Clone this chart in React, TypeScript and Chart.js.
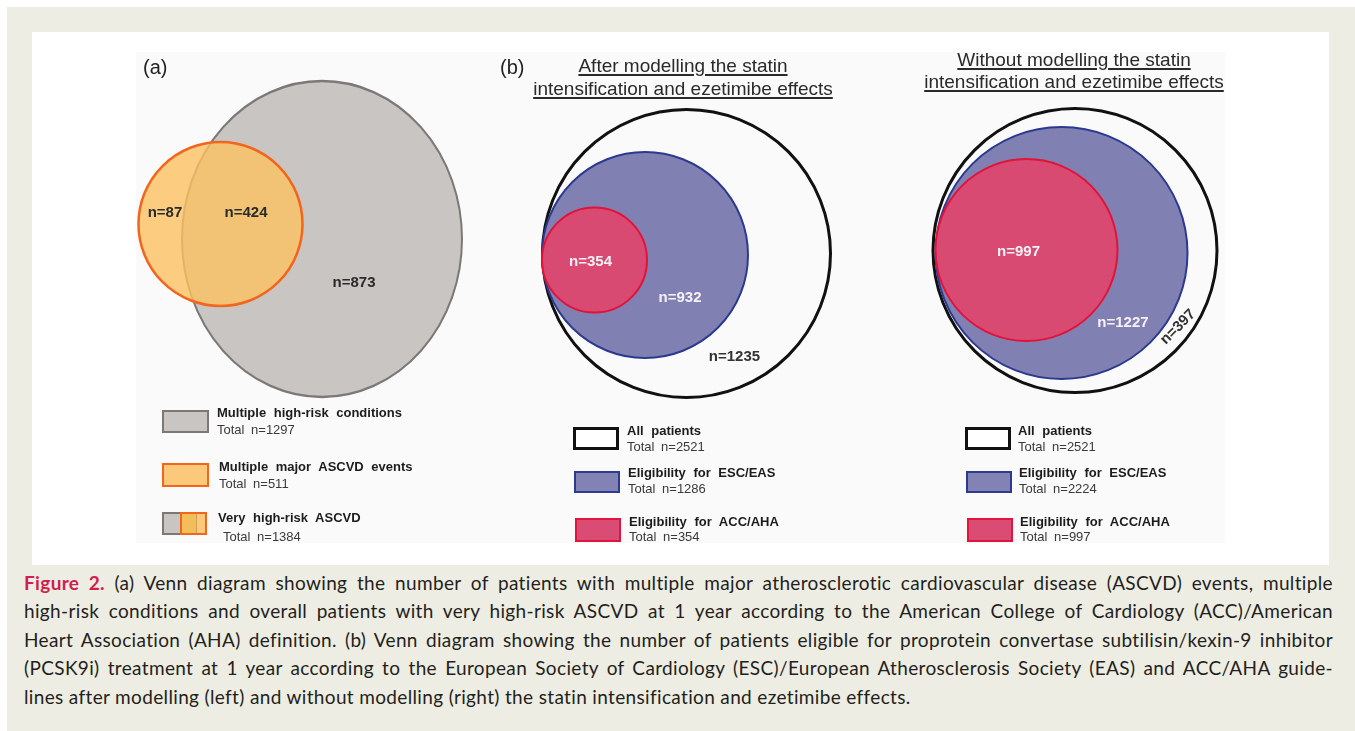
import React, { useEffect, useRef } from "react";
import { Chart, registerables } from "chart.js";

Chart.register(...registerables);

// ---------------- data ----------------
const setNamesA = ["Multiple high-risk conditions", "Multiple major ASCVD events", "Very high-risk ASCVD"];
const setTotalsA = [1297, 511, 1384];
// regions: major events only, both, high-risk conditions only
const regionCountsA = [87, 424, 873];

const setNamesB = ["All patients", "Eligibility for ESC/EAS", "Eligibility for ACC/AHA"];
const setTotalsAfter = [2521, 1286, 354];
const setTotalsWithout = [2521, 2224, 997];
// regions: ACC/AHA, ESC/EAS only, neither
const regionCountsAfter = [354, 932, 1235];
const regionCountsWithout = [997, 1227, 397];

const titleAfter = ["After modelling the statin", "intensification and ezetimibe effects"];
const titleWithout = ["Without modelling the statin", "intensification and ezetimibe effects"];
const panelLetters = ["(a)", "(b)"];

const captionLead = "Figure 2.";
const captionLines = [
  " (a) Venn diagram showing the number of patients with multiple major atherosclerotic cardiovascular disease (ASCVD) events, multiple",
  "high-risk conditions and overall patients with very high-risk ASCVD at 1 year according to the American College of Cardiology (ACC)/American",
  "Heart Association (AHA) definition. (b) Venn diagram showing the number of patients eligible for proprotein convertase subtilisin/kexin-9 inhibitor",
  "(PCSK9i) treatment at 1 year according to the European Society of Cardiology (ESC)/European Atherosclerosis Society (EAS) and ACC/AHA guide-",
  "lines after modelling (left) and without modelling (right) the statin intensification and ezetimibe effects.",
];

// ---------------- layout (diagram units) ----------------
// circles: [centre x, centre y, radius]
const circlesA: number[][] = [
  [290, 207, 140],
  [188.5, 192, 82],
];
const greyStretchY = 158 / 140;
const circlesAfter: number[][] = [
  [654.5, 221.5, 144],
  [613, 223, 103],
  [562.5, 228, 52.5],
];
const circlesWithout: number[][] = [
  [1043, 218.5, 142],
  [1029.5, 221, 126],
  [994.5, 218, 91],
];
const labelPosA: number[][] = [[133, 181], [214, 181], [322, 251]];
const labelPosAfter: number[][] = [[558.5, 230], [648, 266], [702.5, 325]];
const labelPosWithout: number[][] = [[986.5, 220], [1091, 291], [1146, 295]];
const labelRotWithout = [0, 0, -45];

const PANEL = { left: 32, top: 32, w: 1297, h: 533 };

const FONT = "'Liberation Sans', Arial, Helvetica, sans-serif";

function radiusFromScale(ctx: any) {
  const raw = ctx.raw;
  if (!raw) return 0;
  const xs = ctx.chart.scales.x;
  return Math.abs(xs.getPixelForValue(raw.x + raw.rr) - xs.getPixelForValue(raw.x));
}

const toPts = (c: number[][]) => c.map(([x, y, r]) => ({ x, y, rr: r }));

const stretchPlugin = {
  id: "stretch",
  beforeDatasetDraw(chart: any, args: any) {
    const ds = chart.data.datasets[args.index];
    if (!ds.stretchY) return;
    const pt = args.meta.data[0];
    const ctx = chart.ctx;
    ctx.save();
    ctx.translate(pt.x, pt.y);
    ctx.scale(1, ds.stretchY);
    ctx.translate(-pt.x, -pt.y);
  },
  afterDatasetDraw(chart: any, args: any) {
    const ds = chart.data.datasets[args.index];
    if (!ds.stretchY) return;
    chart.ctx.restore();
  },
};

type Lbl = { text: string; x: number; y: number; color: string; rot: number };

const labelPlugin = {
  id: "regionLabels",
  afterDatasetsDraw(chart: any, _a: any, opts: any) {
    const ctx = chart.ctx;
    const xs = chart.scales.x;
    const ys = chart.scales.y;
    (opts.items as Lbl[]).forEach((l) => {
      ctx.save();
      ctx.translate(xs.getPixelForValue(l.x), ys.getPixelForValue(l.y));
      ctx.rotate((l.rot * Math.PI) / 180);
      ctx.font = `bold 15px ${FONT}`;
      ctx.fillStyle = l.color;
      ctx.textAlign = "center";
      ctx.textBaseline = "middle";
      ctx.fillText(l.text, 0, 0);
      ctx.restore();
    });
  },
};

function buildLabels(): Lbl[] {
  const out: Lbl[] = [];
  regionCountsA.forEach((v, i) =>
    out.push({ text: `n=${v}`, x: labelPosA[i][0], y: labelPosA[i][1], color: "#2a2a2a", rot: 0 })
  );
  const light = "#f6f1f6";
  regionCountsAfter.forEach((v, i) =>
    out.push({ text: `n=${v}`, x: labelPosAfter[i][0], y: labelPosAfter[i][1], color: i < 2 ? light : "#333333", rot: 0 })
  );
  regionCountsWithout.forEach((v, i) =>
    out.push({
      text: `n=${v}`,
      x: labelPosWithout[i][0],
      y: labelPosWithout[i][1],
      color: i < 2 ? light : "#333333",
      rot: labelRotWithout[i],
    })
  );
  return out;
}

function Line({ x, cy, text, bold }: { x: number; cy: number; text: string; bold?: boolean }) {
  return (
    <div
      style={{
        position: "absolute",
        left: x,
        top: cy - 8,
        lineHeight: "16px",
        fontSize: 13,
        fontFamily: FONT,
        fontWeight: bold ? 700 : 400,
        whiteSpace: "nowrap",
        wordSpacing: bold ? "4px" : "3px",
        color: bold ? "#1c1c1c" : "#3a3a3a",
      }}
    >
      {text}
    </div>
  );
}

function Box({ l, t, w, h, fill, border, bw }: any) {
  return (
    <div
      style={{
        position: "absolute",
        left: l,
        top: t,
        width: w,
        height: h,
        boxSizing: "border-box",
        background: fill,
        border: `${bw}px solid ${border}`,
      }}
    />
  );
}

function Title({ cx, top, lh, lines }: { cx: number; top: number; lh: number; lines: string[] }) {
  return (
    <div
      style={{
        position: "absolute",
        left: cx - 200,
        top,
        width: 400,
        textAlign: "center",
        fontFamily: FONT,
        fontSize: 19,
        lineHeight: `${lh}px`,
        color: "#2a2a2a",
      }}
    >
      {lines.map((s, i) => (
        <div key={i}>
          <span style={{ textDecoration: "underline", textDecorationThickness: "1.5px", textUnderlineOffset: "2px" }}>{s}</span>
        </div>
      ))}
    </div>
  );
}

const boxesB = [
  { fill: "#ffffff", border: "#111111", bw: 3 },
  { fill: "#8282b4", border: "#2d3b8e", bw: 2.5 },
  { fill: "#d94c74", border: "#e2143c", bw: 2.5 },
];
const boxPosB = [
  { t: 427, h: 23, dx: 0, cy1: 431, cy2: 447 },
  { t: 471, h: 22, dx: 1, cy1: 473, cy2: 489 },
  { t: 518, h: 24, dx: 2, cy1: 522, cy2: 537 },
];

export default function App() {
  const ref = useRef<HTMLCanvasElement>(null);

  useEffect(() => {
    const chart = new Chart(ref.current as HTMLCanvasElement, {
      type: "scatter",
      data: {
        datasets: [
          {
            label: setNamesA[0],
            data: toPts([circlesA[0]]),
            pointRadius: radiusFromScale,
            pointBackgroundColor: "#c9c5c3",
            pointBorderColor: "#7b7877",
            pointBorderWidth: 2,
            stretchY: greyStretchY,
            order: 10,
            clip: false,
          } as any,
          {
            label: setNamesA[1],
            data: toPts([circlesA[1]]),
            pointRadius: radiusFromScale,
            pointBackgroundColor: "rgba(253,194,98,0.8)",
            pointBorderColor: "#f2661c",
            pointBorderWidth: 2.5,
            order: 9,
            clip: false,
          } as any,
          {
            label: "after",
            data: toPts(circlesAfter),
            pointRadius: radiusFromScale,
            pointBackgroundColor: ["rgba(255,255,255,0)", "#8080b2", "#d84a72"],
            pointBorderColor: ["#111111", "#2b3990", "#e31239"],
            pointBorderWidth: [3, 2, 2],
            order: 5,
            clip: false,
          } as any,
          {
            label: "without",
            data: toPts(circlesWithout),
            pointRadius: radiusFromScale,
            pointBackgroundColor: ["rgba(255,255,255,0)", "#8080b2", "#d84a72"],
            pointBorderColor: ["#111111", "#2b3990", "#e31239"],
            pointBorderWidth: [3, 2, 2],
            order: 4,
            clip: false,
          } as any,
        ],
      },
      options: {
        animation: false,
        responsive: true,
        maintainAspectRatio: false,
        events: [],
        layout: { padding: 0 },
        scales: {
          x: { type: "linear", min: 0, max: PANEL.w, display: false },
          y: { type: "linear", min: 0, max: PANEL.h, reverse: true, display: false },
        },
        plugins: {
          legend: { display: false },
          tooltip: { enabled: false },
          regionLabels: { items: buildLabels() },
        } as any,
      },
      plugins: [stretchPlugin, labelPlugin],
    });
    return () => chart.destroy();
  }, []);

  return (
    <div style={{ position: "fixed", left: 0, top: 0, width: 1355, height: 731, background: "#ffffff", overflow: "hidden" }}>
      <div style={{ position: "absolute", left: 7, top: 7, right: 0, bottom: 0, background: "#eeede3" }} />
      <div
        style={{
          position: "absolute",
          left: PANEL.left,
          top: PANEL.top,
          width: PANEL.w,
          height: PANEL.h,
          background: "#ffffff",
        }}
      />
      <div style={{ position: "absolute", left: 136, top: 52, width: 1089, height: 491, background: "#fafafa" }} />
      <div style={{ position: "absolute", left: PANEL.left, top: PANEL.top, width: PANEL.w, height: PANEL.h }}>
        <canvas ref={ref} />
      </div>

      {/* panel letters */}
      <div style={{ position: "absolute", left: 143, top: 55, fontFamily: FONT, fontSize: 20, lineHeight: "24px", color: "#222" }}>
        {panelLetters[0]}
      </div>
      <div style={{ position: "absolute", left: 500, top: 55, fontFamily: FONT, fontSize: 20, lineHeight: "24px", color: "#222" }}>
        {panelLetters[1]}
      </div>

      <Title cx={683} top={53.5} lh={23} lines={titleAfter} />
      <Title cx={1074} top={49} lh={22} lines={titleWithout} />

      {/* legend (a) */}
      <Box l={162} t={410} w={47} h={23} fill="#c9c5c3" border="#7b7877" bw={2} />
      <Line x={217} cy={413} text={setNamesA[0]} bold />
      <Line x={217} cy={430} text={`Total n=${setTotalsA[0]}`} />
      <Box l={162} t={463} w={47} h={24} fill="#fcc97c" border="#f2661c" bw={2.5} />
      <Line x={219} cy={467} text={setNamesA[1]} bold />
      <Line x={219} cy={484} text={`Total n=${setTotalsA[1]}`} />
      <Box l={162} t={512} w={20} h={23} fill="#c9c5c3" border="#7b7877" bw={2} />
      <div
        style={{
          position: "absolute",
          left: 180,
          top: 512,
          width: 27,
          height: 23,
          boxSizing: "border-box",
          border: "2.5px solid #f2661c",
          background: "linear-gradient(to right, #f4bd5c 0, #f4bd5c 14px, #c9a454 14px, #c9a454 15px, #fcc97c 15px)",
        }}
      />
      <Line x={218} cy={518} text={setNamesA[2]} bold />
      <Line x={223} cy={537} text={`Total n=${setTotalsA[2]}`} />

      {/* legend (b) left */}
      {boxPosB.map((p, i) => (
        <React.Fragment key={"l" + i}>
          <Box l={573 + p.dx} t={p.t} w={46} h={p.h} fill={boxesB[i].fill} border={boxesB[i].border} bw={boxesB[i].bw} />
          <Line x={627 + p.dx} cy={p.cy1} text={setNamesB[i]} bold />
          <Line x={627 + p.dx} cy={p.cy2} text={`Total n=${setTotalsAfter[i]}`} />
        </React.Fragment>
      ))}
      {/* legend (b) right */}
      {boxPosB.map((p, i) => (
        <React.Fragment key={"r" + i}>
          <Box l={965 + p.dx} t={p.t} w={46} h={p.h} fill={boxesB[i].fill} border={boxesB[i].border} bw={boxesB[i].bw} />
          <Line x={1018 + p.dx} cy={p.cy1} text={setNamesB[i]} bold />
          <Line x={1018 + p.dx} cy={p.cy2} text={`Total n=${setTotalsWithout[i]}`} />
        </React.Fragment>
      ))}

      {/* caption */}
      <div
        style={{
          position: "absolute",
          left: 24,
          top: 568.75,
          width: 1309,
          fontFamily: "Lato, 'Open Sans', sans-serif",
          fontSize: 19,
          letterSpacing: "0.35px",
          lineHeight: "28.5px",
          color: "#231f20",
        }}
      >
        {captionLines.map((s, i) => (
          <div key={i} style={{ textAlign: "justify", textAlignLast: i < captionLines.length - 1 ? "justify" : "left" } as any}>
            {i === 0 ? <span style={{ color: "#cf1f4b", fontWeight: 700 }}>{captionLead}</span> : null}
            {s}
          </div>
        ))}
      </div>
    </div>
  );
}
